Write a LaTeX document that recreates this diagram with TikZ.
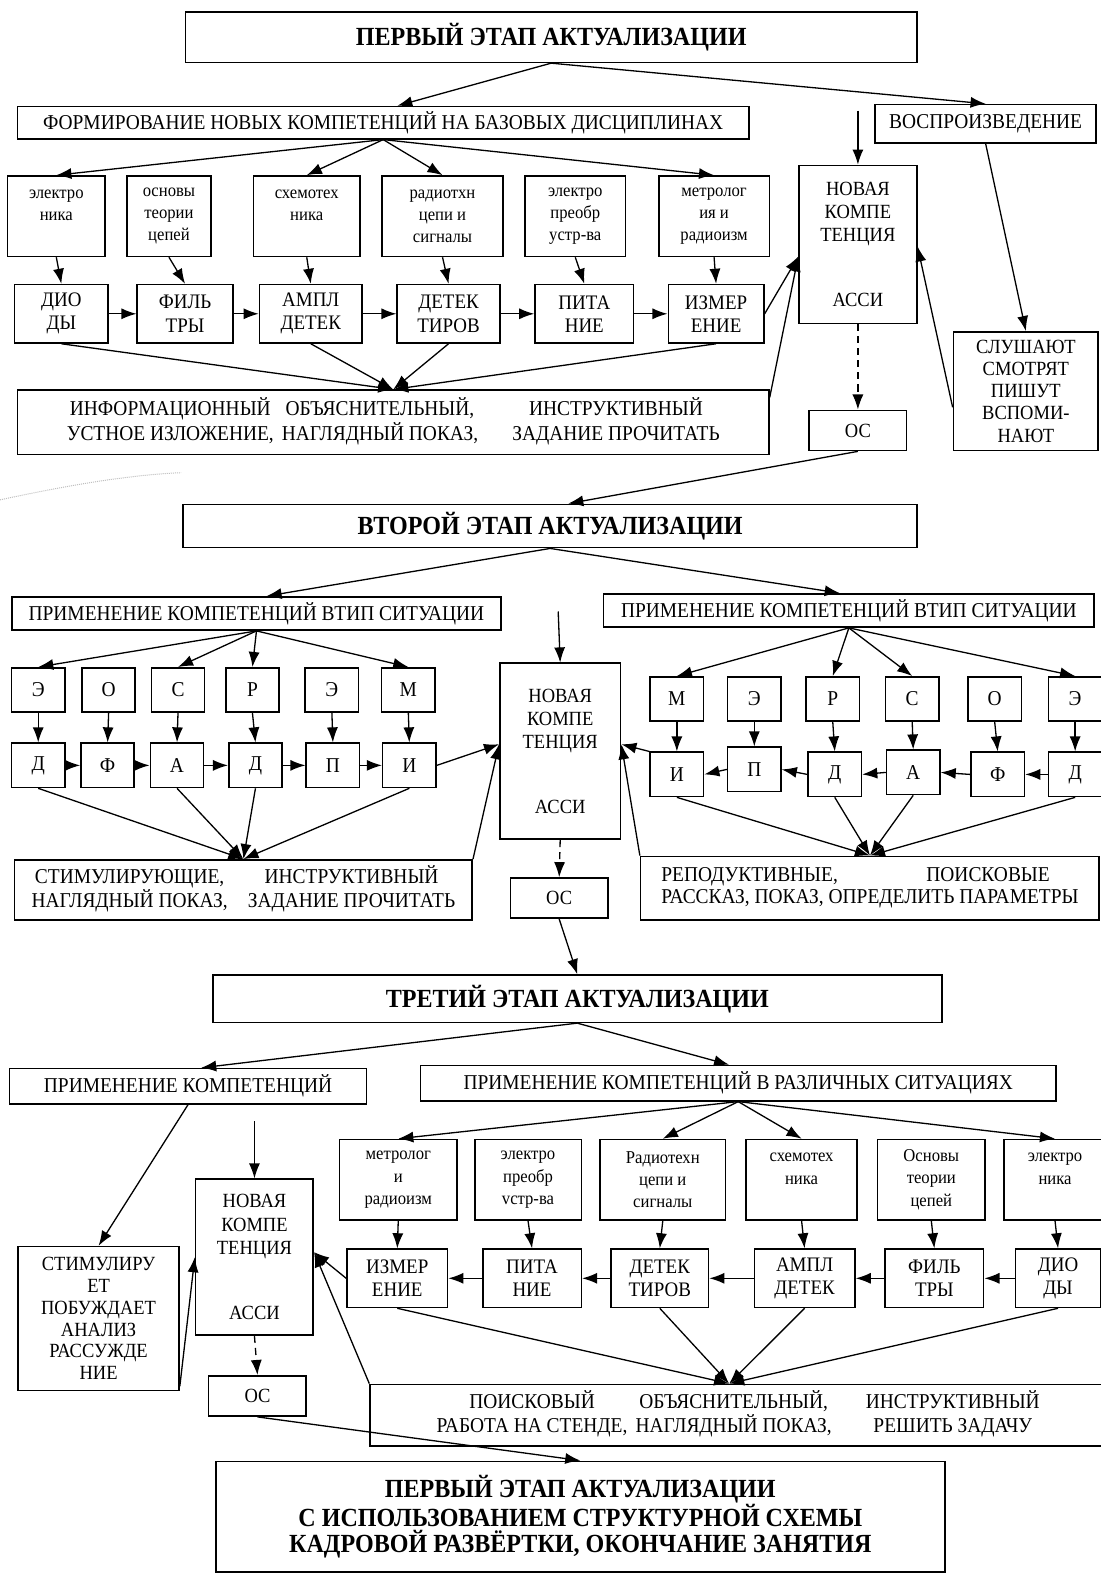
\documentclass[tikz,border=0pt]{standalone}
\usepackage{fontspec}
\setmainfont{Liberation Serif}[FakeStretch=0.92]
\usetikzlibrary{arrows.meta,calc}

\begin{document}
\begin{tikzpicture}[x=1pt,y=-1pt]

\tikzset{box/.style = {draw, line width=1.6pt, inner sep=0pt, align=center,
                       font=\fontsize{21}{22}\selectfont},
         stagebox/.style = {box, font=\bfseries\fontsize{26}{26.5}\selectfont},
         discbox/.style = {box, minimum height=80pt, font=\fontsize{18}{22}\selectfont},
         compbox/.style = {box, minimum height=58pt, font=\fontsize{20.5}{23}\selectfont},
         letbox/.style = {box, minimum width=53pt, minimum height=44pt, font=\fontsize{21}{23}\selectfont},
         newbox/.style = {box, minimum width=117pt, font=\fontsize{20}{23}\selectfont},
         osbox/.style = {box, minimum width=97pt, minimum height=40pt, font=\fontsize{20}{22}\selectfont},
         arr/.style = {-{Latex[length=15pt,width=11pt]}, line width=1.3pt},
         osarr/.style = {arr, dash pattern=on 7pt off 5pt}}

\useasboundingbox (0,0) rectangle (1094,1568);

\draw[gray!50, densely dotted, line width=1pt] (0,497) .. controls (70,482) and (130,472) .. (180,470);

\node[stagebox, minimum width=727pt, minimum height=50pt] (st1) at (548,37) {ПЕРВЫЙ ЭТАП АКТУАЛИЗАЦИИ};
\node[box, minimum width=727pt, minimum height=32pt] (form) at (381,122) {ФОРМИРОВАНИЕ НОВЫХ КОМПЕТЕНЦИЙ НА БАЗОВЫХ ДИСЦИПЛИНАХ};
\node[box, minimum width=220pt, minimum height=38pt] (vosp) at (980,123) {ВОСПРОИЗВЕДЕНИЕ};

\node[discbox, minimum width=97pt] (da1) at (56,215) {электро\\ника\\\mbox{}};
\node[discbox, minimum width=83pt] (da2) at (168,215) {основы\\теории\\цепей};
\node[discbox, minimum width=106pt] (da3) at (305,215) {схемотех\\ника\\\mbox{}};
\node[discbox, minimum width=120pt] (da4) at (440,215) {радиотхн\\цепи и\\сигналы};
\node[discbox, minimum width=100pt] (da5) at (572,215) {электро\\преобр\\устр-ва};
\node[discbox, minimum width=110pt] (da6) at (710,215) {метролог\\ия и\\радиоизм};

\node[compbox, minimum width=93pt] (ca1) at (61,312) {ДИО\\ДЫ};
\node[compbox, minimum width=95pt] (ca2) at (184,312) {ФИЛЬ\\ТРЫ};
\node[compbox, minimum width=102pt] (ca3) at (309,312) {АМПЛ\\ДЕТЕК};
\node[compbox, minimum width=102pt] (ca4) at (446,312) {ДЕТЕК\\ТИРОВ};
\node[compbox, minimum width=98pt] (ca5) at (581,312) {ПИТА\\НИЕ};
\node[compbox, minimum width=95pt] (ca6) at (712,312) {ИЗМЕР\\ЕНИЕ};

\node[newbox, minimum height=157pt] (nov1) at (853,243) {НОВАЯ\\КОМПЕ\\ТЕНЦИЯ\\[42pt]АССИ};
\node[box, minimum width=144pt, minimum height=118pt, font=\fontsize{20}{22}\selectfont] (slush) at (1020,389) {СЛУШАЮТ\\СМОТРЯТ\\ПИШУТ\\ВСПОМИ-\\НАЮТ};
\node[box, minimum width=747pt, minimum height=64pt] (met1) at (391,420)
  {\begin{tabular}{c@{\hspace{8pt}}c@{\hspace{34pt}}c}
   ИНФОРМАЦИОННЫЙ & ОБЪЯСНИТЕЛЬНЫЙ, & ИНСТРУКТИВНЫЙ\\
   УСТНОЕ ИЗЛОЖЕНИЕ, & НАГЛЯДНЫЙ ПОКАЗ, & ЗАДАНИЕ ПРОЧИТАТЬ
   \end{tabular}};
\node[osbox] (os1) at (853,428) {ОС};
\coordinate (in1) at (853,110);

\draw[arr] (st1.south) -- ($(form.north)+(14,0)$);
\draw[arr] (st1.south) -- (vosp.north);
\draw[arr] (form.south) -- (da1.north);
\draw[arr] (form.south) -- (da3.north);
\draw[arr] (form.south) -- (da4.north);
\draw[arr] (form.south) -- (da6.north);
\draw[arr] (da1.south) -- (ca1.north);
\draw[arr] (da2.south) -- (ca2.north);
\draw[arr] (da3.south) -- (ca3.north);
\draw[arr] (da4.south) -- (ca4.north);
\draw[arr] (da5.south) -- (ca5.north);
\draw[arr] (da6.south) -- (ca6.north);
\draw[arr] (ca1.east) -- (ca2.west);
\draw[arr] (ca2.east) -- (ca3.west);
\draw[arr] (ca3.east) -- (ca4.west);
\draw[arr] (ca4.east) -- (ca5.west);
\draw[arr] (ca5.east) -- (ca6.west);
\draw[arr] (ca1.south) -- (met1.north);
\draw[arr] (ca3.south) -- (met1.north);
\draw[arr] (ca4.south) -- (met1.north);
\draw[arr] (ca6.south) -- (met1.north);
\draw[arr] (in1) -- (nov1.north);
\draw[arr] (ca6.east) -- ($(nov1.west)+(0,12)$);
\draw[arr] ($(met1.north east)+(0,8)$) -- ($(nov1.west)+(0,12)$);
\draw[arr] (vosp.south) -- (slush.north);
\draw[arr] ($(slush.west)+(0,16)$) -- ($(nov1.east)+(0,2)$);
\draw[osarr] (nov1.south) -- (os1.north);

\node[stagebox, minimum width=730pt, minimum height=43pt] (st2) at (547,523) {ВТОРОЙ ЭТАП АКТУАЛИЗАЦИИ};
\draw[arr] (os1.south) -- ($(st2.north)+(18,0)$);
\node[box, minimum width=486pt, minimum height=33pt] (apl) at (255,610) {ПРИМЕНЕНИЕ КОМПЕТЕНЦИЙ ВТИП СИТУАЦИИ};
\node[box, minimum width=488pt, minimum height=33pt] (apr) at (844,607) {ПРИМЕНЕНИЕ КОМПЕТЕНЦИЙ ВТИП СИТУАЦИИ};

\node[letbox] (la1) at (38,686) {Э};
\node[letbox] (la2) at (108,686) {О};
\node[letbox] (la3) at (177,686) {С};
\node[letbox] (la4) at (251,686) {Р};
\node[letbox] (la5) at (330,686) {Э};
\node[letbox] (la6) at (406,686) {М};
\node[letbox] (lb1) at (38,761) {Д};
\node[letbox] (lb2) at (107,761) {Ф};
\node[letbox] (lb3) at (176,761) {А};
\node[letbox] (lb4) at (254,761) {Д};
\node[letbox] (lb5) at (331,761) {П};
\node[letbox] (lb6) at (407,761) {И};

\node[letbox] (ra1) at (673,695) {М};
\node[letbox] (ra2) at (750,695) {Э};
\node[letbox] (ra3) at (828,695) {Р};
\node[letbox] (ra4) at (907,695) {С};
\node[letbox] (ra5) at (989,695) {О};
\node[letbox] (ra6) at (1069,695) {Э};
\node[letbox] (rb1) at (673,770) {И};
\node[letbox] (rb2) at (750,765) {П};
\node[letbox] (rb3) at (830,770) {Д};
\node[letbox] (rb4) at (908,768) {А};
\node[letbox] (rb5) at (992,770) {Ф};
\node[letbox] (rb6) at (1069,770) {Д};

\node[newbox, minimum width=120pt, minimum height=175pt] (nov2) at (557,747) {НОВАЯ\\КОМПЕ\\ТЕНЦИЯ\\[42pt]АССИ};
\node[box, minimum width=455pt, minimum height=60pt] (met2l) at (242,885)
  {\begin{tabular}{c@{\hspace{20pt}}c}
   СТИМУЛИРУЮЩИЕ, & ИНСТРУКТИВНЫЙ\\
   НАГЛЯДНЫЙ ПОКАЗ, & ЗАДАНИЕ ПРОЧИТАТЬ
   \end{tabular}};
\node[box, minimum width=456pt, minimum height=63pt] (met2r) at (865,883)
  {\begin{tabular}{@{}l@{}}
   РЕПОДУКТИВНЫЕ,\hspace{88pt}ПОИСКОВЫЕ\\
   РАССКАЗ,\ ПОКАЗ,\ ОПРЕДЕЛИТЬ ПАРАМЕТРЫ
   \end{tabular}};
\node[osbox] (os2) at (556,893) {ОС};
\coordinate (in2) at (555,608);

\draw[arr] (st2.south) -- ($(apl.north)+(10,0)$);
\draw[arr] (st2.south) -- ($(apr.north)+(-9,0)$);
\draw[arr] (apl.south) -- (la1.north);
\draw[arr] (apl.south) -- (la3.north);
\draw[arr] (apl.south) -- (la4.north);
\draw[arr] (apl.south) -- (la6.north);
\draw[arr] (la1.south) -- (lb1.north);
\draw[arr] (la2.south) -- (lb2.north);
\draw[arr] (la3.south) -- (lb3.north);
\draw[arr] (la4.south) -- (lb4.north);
\draw[arr] (la5.south) -- (lb5.north);
\draw[arr] (la6.south) -- (lb6.north);
\draw[arr] (lb1.east) -- (lb2.west);
\draw[arr] (lb2.east) -- (lb3.west);
\draw[arr] (lb3.east) -- (lb4.west);
\draw[arr] (lb4.east) -- (lb5.west);
\draw[arr] (lb5.east) -- (lb6.west);
\draw[arr] (lb6.east) -- ($(nov2.west)+(0,-7)$);
\draw[arr] (lb1.south) -- (met2l.north);
\draw[arr] (lb3.south) -- (met2l.north);
\draw[arr] (lb4.south) -- (met2l.north);
\draw[arr] (lb6.south) -- (met2l.north);
\draw[arr] (met2l.north east) -- ($(nov2.west)+(0,-7)$);
\draw[arr] (apr.south) -- (ra1.north);
\draw[arr] (apr.south) -- (ra3.north);
\draw[arr] (apr.south) -- (ra4.north);
\draw[arr] (apr.south) -- (ra6.north);
\draw[arr] (ra1.south) -- (rb1.north);
\draw[arr] (ra2.south) -- (rb2.north);
\draw[arr] (ra3.south) -- (rb3.north);
\draw[arr] (ra4.south) -- (rb4.north);
\draw[arr] (ra5.south) -- (rb5.north);
\draw[arr] (ra6.south) -- (rb6.north);
\draw[arr] (rb6.west) -- (rb5.east);
\draw[arr] (rb5.west) -- (rb4.east);
\draw[arr] (rb4.west) -- (rb3.east);
\draw[arr] (rb3.west) -- (rb2.east);
\draw[arr] (rb2.west) -- (rb1.east);
\draw[arr] (rb1.north west) -- ($(nov2.east)+(0,-7)$);
\draw[arr] (rb1.south) -- (met2r.north);
\draw[arr] (rb3.south) -- (met2r.north);
\draw[arr] (rb4.south) -- (met2r.north);
\draw[arr] (rb6.south) -- (met2r.north);
\draw[arr] (met2r.north west) -- ($(nov2.east)+(0,-7)$);
\draw[arr] (in2) -- (nov2.north);
\draw[osarr] (nov2.south) -- (os2.north);

\node[stagebox, minimum width=725pt, minimum height=47pt] (st3) at (574,993) {ТРЕТИЙ ЭТАП АКТУАЛИЗАЦИИ};
\draw[arr] (os2.south) -- (st3.north);
\node[box, minimum width=355pt, minimum height=35pt] (ap3l) at (187,1080) {ПРИМЕНЕНИЕ КОМПЕТЕНЦИЙ};
\node[box, minimum width=632pt, minimum height=35pt] (ap3r) at (734,1077) {ПРИМЕНЕНИЕ КОМПЕТЕНЦИЙ В РАЗЛИЧНЫХ СИТУАЦИЯХ};

\node[discbox, minimum width=117pt] (dc1) at (396,1173) {метролог\\и\\радиоизм};
\node[discbox, minimum width=106pt] (dc2) at (525,1173) {электро\\преобр\\vстр-ва};
\node[discbox, minimum width=125pt] (dc3) at (659,1173) {Радиотехн\\цепи и\\сигналы};
\node[discbox, minimum width=110pt] (dc4) at (797,1173) {схемотех\\ника\\\mbox{}};
\node[discbox, minimum width=107pt] (dc5) at (926,1173) {Основы\\теории\\цепей};
\node[discbox, minimum width=102pt] (dc6) at (1049,1173) {электро\\ника\\\mbox{}};

\node[compbox, minimum width=100pt] (cc1) at (395,1271) {ИЗМЕР\\ЕНИЕ};
\node[compbox, minimum width=98pt] (cc2) at (529,1271) {ПИТА\\НИЕ};
\node[compbox, minimum width=97pt] (cc3) at (656,1271) {ДЕТЕК\\ТИРОВ};
\node[compbox, minimum width=100pt] (cc4) at (800,1271) {АМПЛ\\ДЕТЕК};
\node[compbox, minimum width=98pt] (cc5) at (929,1271) {ФИЛЬ\\ТРЫ};
\node[compbox, minimum width=85pt] (cc6) at (1052,1271) {ДИО\\ДЫ};

\node[newbox, minimum height=155pt] (nov3) at (253,1250) {НОВАЯ\\КОМПЕ\\ТЕНЦИЯ\\[42pt]АССИ};
\node[box, minimum width=160pt, minimum height=143pt, font=\fontsize{20}{21.6}\selectfont] (stim) at (98,1311) {СТИМУЛИРУ\\ЕТ\\ПОБУЖДАЕТ\\АНАЛИЗ\\РАССУЖДЕ\\НИЕ};
\node[box, minimum width=732pt, minimum height=61pt] (met3) at (734,1407)
  {\begin{tabular}{c@{\hspace{8pt}}c@{\hspace{34pt}}c}
   ПОИСКОВЫЙ & ОБЪЯСНИТЕЛЬНЫЙ, & ИНСТРУКТИВНЫЙ\\
   РАБОТА НА СТЕНДЕ, & НАГЛЯДНЫЙ ПОКАЗ, & РЕШИТЬ ЗАДАЧУ
   \end{tabular}};
\node[osbox] (os3) at (256,1388) {ОС};
\node[stagebox, minimum width=725pt, minimum height=110pt] (st4) at (577,1508)
  {ПЕРВЫЙ ЭТАП АКТУАЛИЗАЦИИ\\С ИСПОЛЬЗОВАНИЕМ СТРУКТУРНОЙ СХЕМЫ\\КАДРОВОЙ РАЗВЁРТКИ, ОКОНЧАНИЕ ЗАНЯТИЯ};
\coordinate (in3) at (253,1115);

\draw[arr] (st3.south) -- ($(ap3l.north)+(13,0)$);
\draw[arr] (st3.south) -- ($(ap3r.north)+(-9,0)$);
\draw[arr] (ap3r.south) -- (dc1.north);
\draw[arr] (ap3r.south) -- (dc3.north);
\draw[arr] (ap3r.south) -- (dc4.north);
\draw[arr] (ap3r.south) -- (dc6.north);
\draw[arr] (dc1.south) -- (cc1.north);
\draw[arr] (dc2.south) -- (cc2.north);
\draw[arr] (dc3.south) -- (cc3.north);
\draw[arr] (dc4.south) -- (cc4.north);
\draw[arr] (dc5.south) -- (cc5.north);
\draw[arr] (dc6.south) -- (cc6.north);
\draw[arr] (cc6.west) -- (cc5.east);
\draw[arr] (cc5.west) -- (cc4.east);
\draw[arr] (cc4.west) -- (cc3.east);
\draw[arr] (cc3.west) -- (cc2.east);
\draw[arr] (cc2.west) -- (cc1.east);
\draw[arr] (cc1.west) -- ($(nov3.east)+(0,-5)$);
\draw[arr] (met3.north west) -- ($(nov3.east)+(0,-5)$);
\draw[arr] (cc1.south) -- ($(met3.north)+(-9,0)$);
\draw[arr] (cc3.south) -- ($(met3.north)+(-9,0)$);
\draw[arr] (cc4.south) -- ($(met3.north)+(-9,0)$);
\draw[arr] (cc6.south) -- ($(met3.north)+(-9,0)$);
\draw[arr] (ap3l.south) -- (stim.north);
\draw[arr] ($(stim.south east)+(0,-5)$) -- (nov3.west);
\draw[arr] (in3) -- (nov3.north);
\draw[osarr] (nov3.south) -- (os3.north);
\draw[arr] (os3.south) -- (st4.north);

\end{tikzpicture}
\end{document}
